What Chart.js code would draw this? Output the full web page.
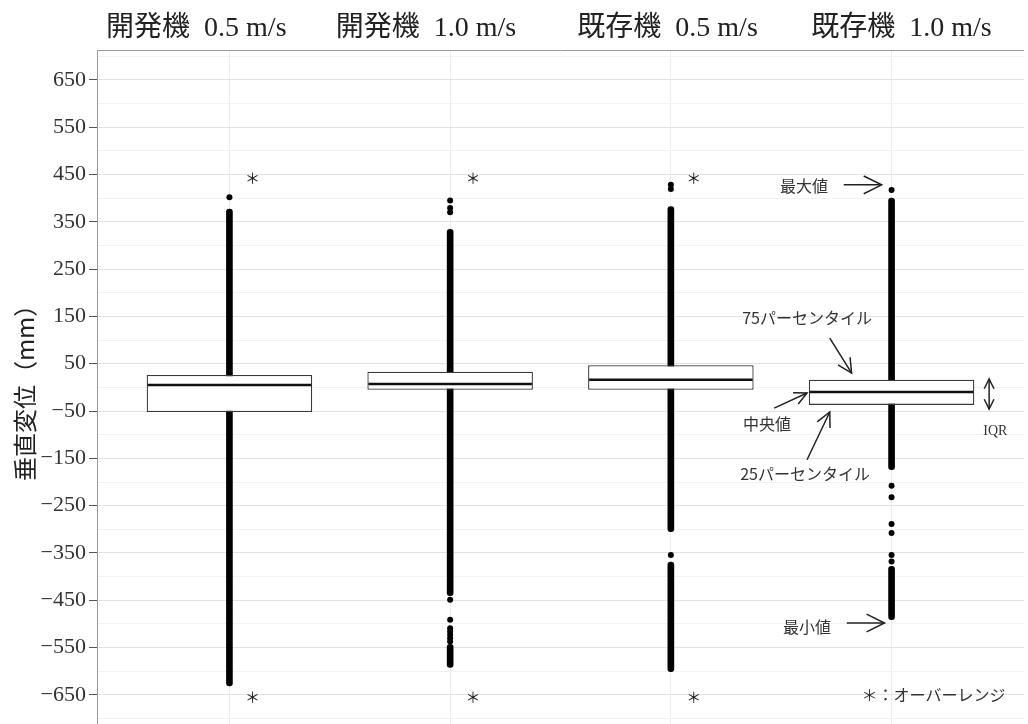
<!DOCTYPE html>
<html lang="ja">
<head>
<meta charset="utf-8">
<title>垂直変位</title>
<script src="https://cdn.jsdelivr.net/npm/chart.js@4.4.1/dist/chart.umd.min.js"></script>
<style>
  html, body { margin: 0; padding: 0; background: #fff; overflow: hidden; }
  /* a bit taller than the window: the bottom of the panel runs off the picture */
  #wrap { width: 1028px; height: 740px; position: relative; }
</style>
</head>
<body>
<div id="wrap"><canvas id="chart"></canvas></div>
<script>
// conditions, drawn at x = 1..4
const groupNames = ['開発機  0.5 m/s', '開発機  1.0 m/s', '既存機  0.5 m/s', '既存機  1.0 m/s'];
const groupPos = [1, 2, 3, 4];

// box statistics (mm)
const q1Values = [-52, -5, -5, -37];
const medianValues = [5, 7, 16, -10];
const q3Values = [26, 33, 47, 16];

// solid runs of overlapping points (low, high)
const columnLow = [-631, -440, -305, -174];
const columnHigh = [377, 334, 382, 400];
const tailLow = [null, -592, -601, -491];
const tailHigh = [null, -543, -369, -378];

// single points that stand apart
const outliers1 = [402];
const outliers2 = [395, 379, 370, -449, -491, -509, -516, -523, -530, -537];
const outliers3 = [428, 419, -354];
const outliers4 = [417, -208, -232, -289, -308, -354, -368];

// y axis
const yTicks = [-650, -550, -450, -350, -250, -150, -50, 50, 150, 250, 350, 450, 550, 650];
const yMinor = [-700, -600, -500, -400, -300, -200, -100, 0, 100, 200, 300, 400, 500, 600, 700];

const boxWidth = 0.75;

// annotation placement, in data units
const headerX = [0.85, 1.89, 2.985, 4.045];
const overrangeX = [1.104, 2.104, 3.104];
const overrangeY = [442, -654];
const notes = [
    { text: '最大値', x: 3.603, y: 425 },
    { text: '75パーセンタイル', x: 3.617, y: 147 },
    { text: '中央値', x: 3.436, y: -77 },
    { text: '25パーセンタイル', x: 3.608, y: -183 },
    { text: '最小値', x: 3.617, y: -506 },
    { text: '＊：オーバーレンジ', x: 4.19, y: -650 }
];
const arrows = [
    { from: [3.783, 428], to: [3.955, 428], head: 20 },
    { from: [3.720, 104], to: [3.819, 30], head: 16 },
    { from: [3.468, -44], to: [3.617, -12], head: 14 },
    { from: [3.617, -153], to: [3.720, -52], head: 16 },
    { from: [3.797, -498], to: [3.968, -498], head: 20 }
];
const iqrArrow = { x: 4.442, top: 18, bottom: -46 };

function fmtTick(v) {
    return v < 0 ? '\u2212' + Math.abs(v) : String(v);
}

function arrowHead(ctx, x1, y1, x2, y2, len) {
    const a = Math.atan2(y2 - y1, x2 - x1);
    const spread = 0.46;
    ctx.beginPath();
    ctx.moveTo(x2 - len * Math.cos(a - spread), y2 - len * Math.sin(a - spread));
    ctx.lineTo(x2, y2);
    ctx.lineTo(x2 - len * Math.cos(a + spread), y2 - len * Math.sin(a + spread));
    ctx.stroke();
}

const decorations = {
    id: 'decorations',
    afterDatasetsDraw(chart) {
        const { ctx, chartArea, scales } = chart;
        const px = v => scales.x.getPixelForValue(v);
        const py = v => scales.y.getPixelForValue(v);
        ctx.save();

        // panel top border
        ctx.strokeStyle = '#9a9a9a';
        ctx.lineWidth = 1;
        ctx.beginPath();
        ctx.moveTo(chartArea.left, chartArea.top + 0.5);
        ctx.lineTo(chartArea.right, chartArea.top + 0.5);
        ctx.stroke();

        // condition headers
        ctx.fillStyle = '#222';
        ctx.textAlign = 'center';
        ctx.textBaseline = 'alphabetic';
        ctx.font = '28px "Liberation Serif", "Noto Sans CJK JP"';
        groupNames.forEach((name, i) => ctx.fillText(name, px(headerX[i]), chartArea.top - 14));

        // over-range marks
        ctx.textBaseline = 'middle';
        ctx.font = '15px "Noto Sans CJK JP"';
        overrangeX.forEach(x => overrangeY.forEach(y => ctx.fillText('＊', px(x), py(y))));

        // notes
        ctx.fillStyle = '#333';
        ctx.font = '16px "Noto Sans CJK JP"';
        notes.forEach(n => ctx.fillText(n.text, px(n.x), py(n.y)));
        ctx.font = '14px "Liberation Serif"';
        ctx.fillText('IQR', px(4.47), py(-92));

        // arrows
        ctx.strokeStyle = '#222';
        ctx.lineWidth = 1.5;
        arrows.forEach(a => {
            const x1 = px(a.from[0]), y1 = py(a.from[1]);
            const x2 = px(a.to[0]), y2 = py(a.to[1]);
            ctx.beginPath();
            ctx.moveTo(x1, y1);
            ctx.lineTo(x2, y2);
            ctx.stroke();
            arrowHead(ctx, x1, y1, x2, y2, a.head);
        });
        const ix = px(iqrArrow.x), it = py(iqrArrow.top), ib = py(iqrArrow.bottom);
        ctx.beginPath();
        ctx.moveTo(ix, it);
        ctx.lineTo(ix, ib);
        ctx.stroke();
        arrowHead(ctx, ix, ib, ix, it, 11);
        arrowHead(ctx, ix, it, ix, ib, 11);

        ctx.restore();
    }
};

const columnData = groupPos.map((x, i) => ({ x, y: [columnLow[i], columnHigh[i]] }));
const tailData = groupPos
    .map((x, i) => ({ x, y: [tailLow[i], tailHigh[i]] }))
    .filter(d => d.y[0] !== null);
const boxData = groupPos.map((x, i) => ({ x, y: [q1Values[i], q3Values[i]] }));
const medianData = groupPos.map((x, i) => ({ x, y: medianValues[i] }));
const outlierData = [outliers1, outliers2, outliers3, outliers4]
    .flatMap((list, i) => list.map(y => ({ x: groupPos[i], y })));

const columnStyle = {
    type: 'bar',
    backgroundColor: '#000',
    barThickness: 6,
    borderRadius: 3,
    borderSkipped: false,
    grouped: false,
    order: 3
};

new Chart(document.getElementById('chart'), {
    type: 'bar',
    data: {
        datasets: [
            { ...columnStyle, label: 'column', data: columnData },
            { ...columnStyle, label: 'tail', data: tailData },
            {
                type: 'scatter',
                label: 'outliers',
                data: outlierData,
                pointRadius: 3,
                pointBackgroundColor: '#000',
                pointBorderWidth: 0,
                order: 2
            },
            {
                type: 'bar',
                label: 'IQR',
                data: boxData,
                backgroundColor: '#fff',
                borderColor: '#3a3a3a',
                borderWidth: 1.3,
                borderSkipped: false,
                barPercentage: boxWidth,
                categoryPercentage: 1,
                grouped: false,
                order: 1
            },
            {
                type: 'scatter',
                label: 'median',
                data: medianData,
                pointStyle: 'line',
                pointRadius: ctx => {
                    const s = ctx.chart.scales.x;
                    return s.getPixelForValue(1 + boxWidth / 2) - s.getPixelForValue(1) - 1;
                },
                pointBorderWidth: 2.5,
                pointBorderColor: '#111',
                order: 0
            }
        ]
    },
    options: {
        responsive: true,
        maintainAspectRatio: false,
        animation: false,
        events: [],
        layout: { padding: { top: 50, left: 0, right: 0, bottom: 0 } },
        plugins: {
            legend: { display: false },
            tooltip: { enabled: false }
        },
        scales: {
            x: {
                type: 'linear',
                min: 0.4,
                max: 4.6,
                offset: false,
                afterBuildTicks: s => { s.ticks = groupPos.map(v => ({ value: v })); },
                afterFit: s => { s.height = 0; },
                ticks: { display: false },
                grid: { color: '#ececec', drawTicks: false, offset: false },
                border: { display: false }
            },
            y: {
                type: 'linear',
                min: -711,
                max: 713,
                afterBuildTicks: s => { s.ticks = yMinor.concat(yTicks).sort((a, b) => a - b).map(v => ({ value: v })); },
                afterFit: s => { s.width = 97; },
                ticks: {
                    autoSkip: false,
                    padding: 3,
                    color: '#333',
                    font: { family: '"Liberation Serif"', size: 22 },
                    callback: v => yTicks.includes(v) ? fmtTick(v) : ''
                },
                grid: {
                    color: c => yTicks.includes(c.tick && c.tick.value) ? '#e2e2e2' : '#f2f2f2',
                    tickColor: c => yTicks.includes(c.tick && c.tick.value) ? '#555' : 'rgba(0,0,0,0)',
                    tickLength: 8
                },
                border: { display: true, color: '#9a9a9a' },
                title: {
                    display: true,
                    text: '垂直変位（mm）',
                    color: '#222',
                    font: { family: '"Noto Sans CJK JP"', size: 24 },
                    padding: { top: 10, bottom: 0 }
                }
            }
        }
    },
    plugins: [decorations]
});
</script>
</body>
</html>
